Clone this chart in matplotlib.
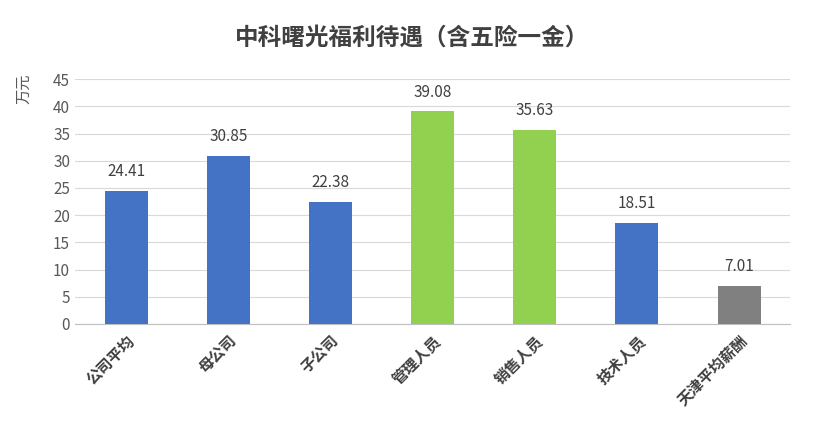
import matplotlib.pyplot as plt
import numpy as np

plt.rcParams['font.family'] = ['Noto Sans CJK SC', 'DejaVu Sans']

categories = ['公司平均', '母公司', '子公司', '管理人员', '销售人员', '技术人员', '天津平均薪酬']
values = [24.41, 30.85, 22.38, 39.08, 35.63, 18.51, 7.01]
colors = ['#4472C4', '#4472C4', '#4472C4', '#92D050', '#92D050', '#4472C4', '#808080']

fig = plt.figure(figsize=(8.24, 4.45), dpi=100)
ax = fig.add_axes([0.091, 0.272, 0.868, 0.55])

x = np.arange(len(categories))
ax.bar(x, values, width=0.42, color=colors, zorder=3)
for xi, v in zip(x, values):
    ax.text(xi, v + 2, f'{v:.2f}', ha='center', va='bottom', fontsize=11, color='#404040')

ax.set_ylim(0, 45)
ax.set_yticks(range(0, 46, 5))
ax.set_xlim(-0.5, len(categories) - 0.5)
ax.set_xticks(x)
ax.set_xticklabels(categories, rotation=45, ha='right', rotation_mode='anchor',
                   fontsize=11, fontweight='bold', color='#404040')
ax.tick_params(axis='y', labelsize=11, colors='#595959', length=0)
ax.tick_params(axis='x', length=0, pad=6)
ax.grid(axis='y', color='#D9D9D9', linewidth=0.8, zorder=0)
for s in ['top', 'right', 'left']:
    ax.spines[s].set_visible(False)
ax.spines['bottom'].set_color('#BFBFBF')
ax.set_ylabel('万元', fontsize=11, color='#595959', labelpad=4)
ax.yaxis.set_label_coords(-0.06, 0.96)

fig.text(0.5, 0.915, '中科曙光福利待遇（含五险一金）', ha='center', va='center',
         fontsize=17, fontweight='bold', color='#404040')

fig.savefig('out.png', dpi=100)
